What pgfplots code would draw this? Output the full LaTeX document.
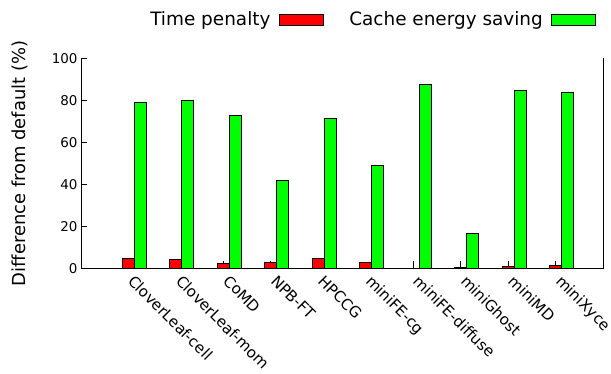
\documentclass[border=0pt]{standalone}
\usepackage{fontspec}
\setmainfont{DejaVu Sans}
\usepackage{pgfplots}
\usepackage{pgfplotstable}
\pgfplotsset{compat=1.18}

\definecolor{penalty}{RGB}{255,0,0}
\definecolor{saving}{RGB}{0,255,0}

% legend key drawn as a flat box
\pgfplotsset{boxkey/.style={legend image code/.code={%
  \draw[##1] (0bp,-5.5bp) rectangle (44bp,5.5bp);}}}

% x: position, t: time penalty, te: upper error, s: cache energy saving
\pgfplotstableread{
x name           t    te   s
0 CloverLeaf-cell 4.8 0    79.0
1 CloverLeaf-mom  4.4 0    80.0
2 CoMD            2.4 0.9  73.0
3 NPB-FT          3.0 0.3  41.9
4 HPCCG           4.8 0    71.4
5 miniFE-cg       3.0 0    49.0
6 miniFE-diffuse  0.0 3.4  87.6
7 miniGhost       0.3 3.1  16.7
8 miniMD          1.0 2.4  84.8
9 miniXyce        1.5 1.9  83.6
}\benchdata

\begin{document}
\begin{tikzpicture}
\useasboundingbox (-81bp,-105.7bp) rectangle (530bp,268.3bp);
\begin{axis}[
  width=522.7bp, height=210bp, scale only axis,
  xmin=-1.12, xmax=9.88, ymin=0, ymax=100,
  ybar=0pt, bar width=12bp,
  axis x line*=bottom,
  axis line style={black, line width=1bp},
  xtick={0,...,9},
  xticklabels from table={\benchdata}{name},
  xtick style={draw=none},
  xticklabel style={rotate=-45, anchor=north west, inner sep=0pt,
    font=\fontsize{15.2}{17}\selectfont, xshift=5bp, yshift=-3bp},
  ytick={0,20,...,100},
  ytick pos=left,
  tick align=inside,
  major tick length=6bp,
  ytick style={black, line width=0.8bp},
  yticklabel style={font=\fontsize{13.5}{15}\selectfont},
  /pgf/number format/assume math mode=true,
  ylabel={Difference from default (\%)},
  ylabel style={font=\fontsize{18}{20}\selectfont,
    at={(axis description cs:-0.117,0.5)}, anchor=center},
  legend plot pos=right,
  legend columns=-1,
  legend style={draw=none, fill=none, inner sep=0pt,
    at={(axis description cs:0.985,1.185)}, anchor=east,
    font=\fontsize{18.5}{20}\selectfont,
    /tikz/every odd column/.append style={column sep=6bp},
    /tikz/every even column/.append style={column sep=24bp}},
]
\addplot[fill=penalty, draw=black, line width=0.8bp, boxkey,
  error bars/.cd, y dir=plus, y explicit, error mark=none,
  error bar style={black, line width=0.8bp}]
  table[x=x, y=t, y error=te] {\benchdata};
\addlegendentry{Time penalty}
\addplot[fill=saving, draw=black, line width=0.8bp, boxkey]
  table[x=x, y=s] {\benchdata};
\addlegendentry{Cache energy saving}
\end{axis}
\end{tikzpicture}
\end{document}
